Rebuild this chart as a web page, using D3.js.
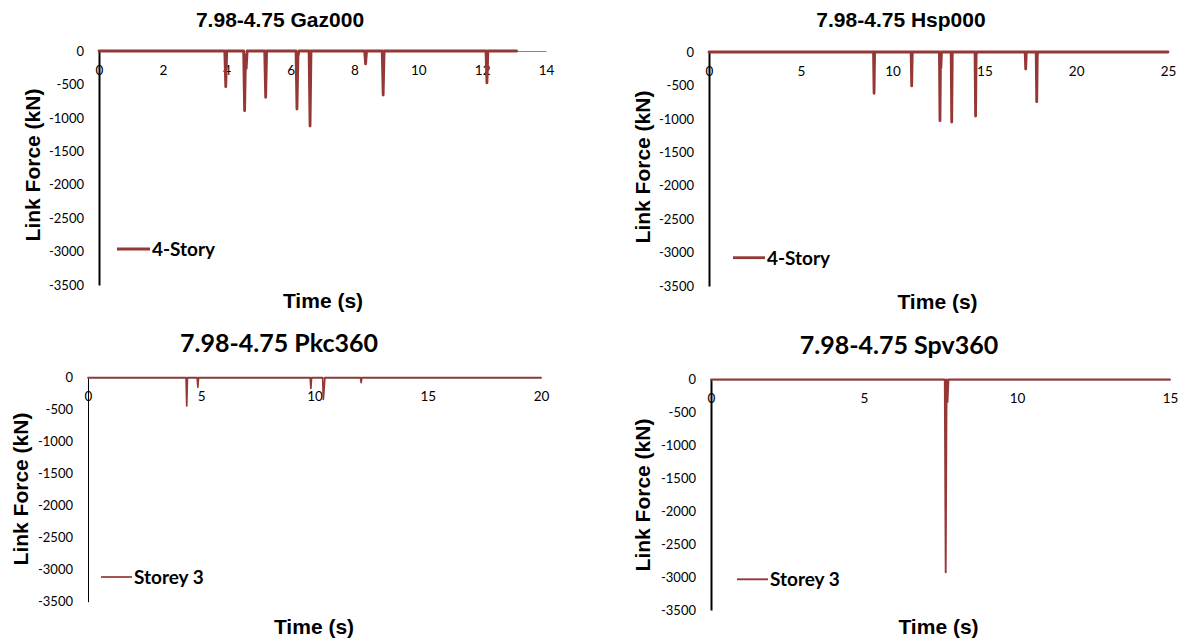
<!DOCTYPE html>
<html>
<head>
<meta charset="utf-8">
<script src="https://cdn.jsdelivr.net/npm/d3@7/dist/d3.min.js"></script>
<style>
  html, body { margin: 0; padding: 0; background: #fff; }
  svg { display: block; }
</style>
</head>
<body>
<svg id="chart" width="1182" height="638"></svg>
<script>
// ---------------- DATA ----------------
const yTicks = [0, -500, -1000, -1500, -2000, -2500, -3000, -3500];

const gazTicks = [0, 2, 4, 6, 8, 10, 12, 14];
const gazTime  = [0, 3.94, 3.97, 4.00, 4.53, 4.56, 4.59, 4.61, 4.64, 5.19, 5.22, 5.25, 6.17, 6.20, 6.23, 6.26, 6.58, 6.61, 6.64, 8.32, 8.35, 8.38, 8.87, 8.90, 8.93, 12.12, 12.15, 12.18, 13.08];
const gazForce = [0, 0, -534, 0, 0, -893, -60, -260, 0, 0, -693, 0, 0, -868, -90, 0, 0, -1122, 0, 0, -194, 0, 0, -658, 0, 0, -478, 0, 0];

const hspTicks = [0, 5, 10, 15, 20, 25];
const hspTime  = [0, 8.96, 8.99, 9.02, 11.01, 11.04, 11.07, 12.55, 12.58, 12.61, 12.63, 12.66, 13.19, 13.22, 13.25, 14.49, 14.52, 14.55, 14.58, 17.22, 17.25, 17.28, 17.82, 17.85, 17.88, 17.91, 25];
const hspForce = [0, 0, -618, 0, 0, -508, 0, 0, -1027, -60, -240, 0, 0, -1047, 0, 0, -957, -40, 0, 0, -254, 0, 0, -743, -50, 0, 0];

const pkcTicks = [0, 5, 10, 15, 20];
const pkcTime  = [0, 4.33, 4.36, 4.39, 4.82, 4.85, 4.88, 9.81, 9.84, 9.87, 10.36, 10.39, 10.46, 12.03, 12.06, 12.09, 20];
const pkcForce = [0, 0, -442, 0, 0, -150, 0, 0, -166, 0, 0, -338, 0, 0, -78, 0, 0];

const spvTicks = [0, 5, 10, 15];
const spvTime  = [0, 7.64, 7.67, 7.70, 7.73, 7.76, 15];
const spvForce = [0, 0, -2927, 0, -340, 0, 0];

// ---------------- DRAW ----------------
const svg = d3.select("#chart");
const RED = "#953735";
const TICKFONT = "Lato, 'Open Sans', sans-serif";
const ARIAL = "'Liberation Sans', Arial, sans-serif";

const charts = [
  { title: "7.98-4.75 Gaz000", titleFont: ARIAL, titleSize: 21, titleX: 280, titleY: 27,
    time: gazTime, force: gazForce, xTicks: gazTicks,
    x0: 99, x1: 546, yTop: 51, yBot: 285, axisW: 2, lineW: 2.8,
    yTitleX: 40, yTitleY: 165, xTitleX: 323, xTitleY: 308,
    legX0: 117, legX1: 150, legY: 249, legW: 2.8, legText: "4-Story" },
  { title: "7.98-4.75 Hsp000", titleFont: ARIAL, titleSize: 21, titleX: 901, titleY: 27,
    time: hspTime, force: hspForce, xTicks: hspTicks,
    x0: 709, x1: 1168, yTop: 52, yBot: 286, axisW: 2, lineW: 2.8,
    yTitleX: 650, yTitleY: 167, xTitleX: 937.5, xTitleY: 309,
    legX0: 733, legX1: 765, legY: 257.7, legW: 2.8, legText: "4-Story" },
  { title: "7.98-4.75 Pkc360", titleFont: TICKFONT, titleSize: 25, titleX: 279, titleY: 352,
    time: pkcTime, force: pkcForce, xTicks: pkcTicks,
    x0: 88, x1: 541, yTop: 377.7, yBot: 601.7, axisW: 1, lineW: 1.7,
    yTitleX: 28, yTitleY: 489, xTitleX: 314, xTitleY: 634,
    legX0: 101, legX1: 132, legY: 577, legW: 1.7, legText: "Storey 3" },
  { title: "7.98-4.75 Spv360", titleFont: TICKFONT, titleSize: 25, titleX: 899, titleY: 353.5,
    time: spvTime, force: spvForce, xTicks: spvTicks,
    x0: 711, x1: 1170, yTop: 379.5, yBot: 610, axisW: 2, lineW: 1.9,
    yTitleX: 650, yTitleY: 495, xTitleX: 938.5, xTitleY: 634,
    legX0: 737, legX1: 768, legY: 579.3, legW: 1.9, legText: "Storey 3" }
];

charts.forEach(c => {
  const g = svg.append("g");
  const xMax = c.xTicks[c.xTicks.length - 1];
  const x = d3.scaleLinear().domain([0, xMax]).range([c.x0, c.x1]);
  const y = d3.scaleLinear().domain([-3500, 0]).range([c.yBot, c.yTop]);

  // title
  g.append("text")
    .attr("x", c.titleX).attr("y", c.titleY)
    .attr("text-anchor", "middle")
    .style("font-family", c.titleFont).style("font-weight", "bold")
    .style("font-size", c.titleSize + "px").style("fill", "#000")
    .text(c.title);

  // y axis
  const yAxis = d3.axisLeft(y).tickValues(yTicks).tickSize(0).tickSizeOuter(0).tickPadding(15)
    .tickFormat(d => String(d));
  const ya = g.append("g").attr("transform", `translate(${c.x0},0)`).call(yAxis);
  ya.select(".domain").attr("stroke", "#000").attr("stroke-width", c.axisW);
  ya.selectAll("text").style("font-family", TICKFONT).style("font-size", "13px").style("fill", "#000");

  // x axis (at force = 0)
  const xAxis = d3.axisBottom(x).tickValues(c.xTicks).tickSize(0).tickSizeOuter(0).tickPadding(14)
    .tickFormat(d => String(d));
  const xa = g.append("g").attr("transform", `translate(0,${y(0)})`).call(xAxis);
  xa.select(".domain").attr("stroke", "#868686").attr("stroke-width", 1.2);
  xa.selectAll("text").style("font-family", TICKFONT).style("font-size", "13.5px").style("fill", "#000");

  // data line
  const pts = c.time.map((t, i) => [t, c.force[i]]);
  const line = d3.line().x(d => x(d[0])).y(d => y(d[1]));
  g.append("path").datum(pts)
    .attr("d", line)
    .attr("fill", "none")
    .attr("stroke", RED)
    .attr("stroke-width", c.lineW)
    .attr("stroke-linejoin", "round")
    .attr("stroke-linecap", "round");

  // axis titles
  g.append("text")
    .attr("transform", `translate(${c.yTitleX},${c.yTitleY}) rotate(-90)`)
    .attr("text-anchor", "middle")
    .style("font-family", ARIAL).style("font-weight", "bold").style("font-size", "21px")
    .text("Link Force (kN)");
  g.append("text")
    .attr("x", c.xTitleX).attr("y", c.xTitleY)
    .attr("text-anchor", "middle")
    .style("font-family", ARIAL).style("font-weight", "bold").style("font-size", "21px")
    .text("Time (s)");

  // legend
  g.append("line")
    .attr("x1", c.legX0).attr("x2", c.legX1).attr("y1", c.legY).attr("y2", c.legY)
    .attr("stroke", RED).attr("stroke-width", c.legW);
  g.append("text")
    .attr("x", c.legX1 + 2).attr("y", c.legY).attr("dy", "0.36em")
    .style("font-family", TICKFONT).style("font-weight", "bold").style("font-size", "19px")
    .text(c.legText);
});
</script>
</body>
</html>
